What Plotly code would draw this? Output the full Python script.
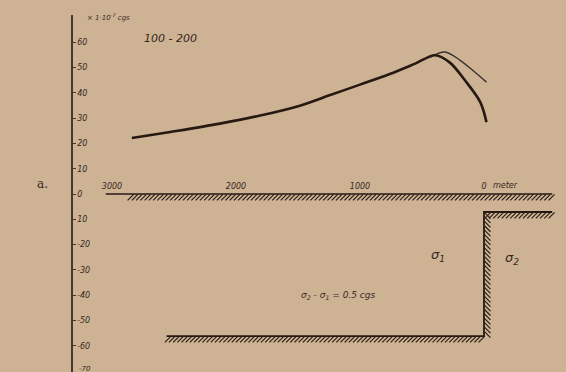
import numpy as np
import plotly.graph_objects as go

# Distance along the profile (m, 0 at the step edge) and anomaly (x 1e-7 cgs)
dist_main = [2840, 2530, 2130, 1805, 1485, 1240, 1000, 760, 555, 395, 275, 155, 30, -20]
anom_main = [22.1, 24.5, 27.8, 31.0, 34.9, 39.1, 43.2, 47.4, 51.5, 54.8, 51.9, 45.0, 36.3, 28.4]
dist_alt = [435, 315, 195, 75, -20]
anom_alt = [54.1, 56.1, 52.9, 48.2, 44.2]

# Cross-section of the density step, drawn in the same axes
surface_x = [3050, -550]
surface_y = [0, 0]
step_x = [-550, 0, 0, 2560]
step_y = [-7.1, -7.1, -56.1, -56.1]

y_ticks = [60, 50, 40, 30, 20, 10, 0, -10, -20, -30, -40, -50, -60, -70]
y_ticktext = ["60", "50", "40", "30", "20", "10", "0", "10", "-20", "-30", "-40", "-50", "-60", "-70"]
x_ticks = [3000, 2000, 1000, 0]
x_ticktext = ["3000", "2000", "1000", "0"]

INK = "#261912"
TEXT = "#35281f"
BG = "#cdb293"


def hatch(x0, y0, x1, y1, n, dx=0.0, dy=0.0):
    xs = np.linspace(x0, x1, n) + dx
    ys = np.linspace(y0, y1, n) + dy
    return xs, ys


fig = go.Figure()

# hatching along the ground surface and the step boundary
hx1, hy1 = hatch(2850, 0, -545, 0, 100, dy=-1.3)
hx2, hy2 = hatch(-30, -7.1, -545, -7.1, 16, dy=-1.3)
hx3, hy3 = hatch(0, -8.5, 0, -55.5, 28, dx=-28)
hx4, hy4 = hatch(2550, -56.1, 20, -56.1, 76, dy=-1.3)
for hx, hy, sym in [(hx1, hy1, "line-ne"), (hx2, hy2, "line-ne"),
                    (hx3, hy3, "line-nw"), (hx4, hy4, "line-ne")]:
    fig.add_trace(go.Scatter(x=hx, y=hy, mode="markers", hoverinfo="skip",
                             marker=dict(symbol=sym, size=6,
                                         line=dict(color=INK, width=1.1)),
                             showlegend=False))

fig.add_trace(go.Scatter(x=surface_x, y=surface_y, mode="lines",
                         line=dict(color=INK, width=1.5), showlegend=False))
fig.add_trace(go.Scatter(x=step_x, y=step_y, mode="lines",
                         line=dict(color=INK, width=1.8), showlegend=False))

# anomaly curves
fig.add_trace(go.Scatter(x=dist_alt, y=anom_alt, mode="lines",
                         line=dict(color="#3a3230", width=1.4, shape="spline", smoothing=0.9),
                         showlegend=False))
fig.add_trace(go.Scatter(x=dist_main, y=anom_main, mode="lines",
                         line=dict(color=INK, width=2.6, shape="spline", smoothing=0.9),
                         showlegend=False))

ifont = dict(family="DejaVu Sans", color=TEXT, style="italic")

fig.update_layout(
    width=566, height=372,
    margin=dict(l=73, r=6, t=15, b=0),
    paper_bgcolor=BG, plot_bgcolor=BG,
    xaxis=dict(range=[3314.5, -612.9], showgrid=False, zeroline=False,
               showline=False, ticks="", tickvals=x_ticks, ticktext=x_ticktext,
               side="top", anchor="free", position=0.508,
               tickfont=dict(size=8, **ifont)),
    yaxis=dict(range=[-70.3, 70.7], showgrid=False, zeroline=False,
               showline=True, linecolor="#43382d", linewidth=1.5,
               ticks="inside", ticklen=3, tickcolor="#43382d",
               ticklabelposition="inside",
               tickvals=y_ticks, ticktext=y_ticktext,
               tickfont=dict(size=8, **ifont)),
    annotations=[
        # bottom tick label sits at the lower edge, placed explicitly
        dict(x=0.009, xref="paper", y=-69.2, text="-70", showarrow=False,
             xanchor="left", yanchor="middle", font=dict(size=7, **ifont)),
        dict(x=-170, y=3.4, text="meter", showarrow=False, xanchor="center",
             font=dict(size=8, **ifont)),
        dict(x=3032, y=70.0, text="\u00d7 1\u00b710<sup>-7</sup> cgs", showarrow=False,
             font=dict(size=7, **ifont)),
        dict(x=2532, y=61.6, text="100 - 200", showarrow=False,
             font=dict(size=11, **ifont)),
        dict(x=371, y=-24.1, text="\u03c3<sub>1</sub>", showarrow=False,
             font=dict(size=13, **ifont)),
        dict(x=-226, y=-25.3, text="\u03c3<sub>2</sub>", showarrow=False,
             font=dict(size=13, **ifont)),
        dict(x=1177, y=-39.9, text="\u03c3<sub>2</sub> - \u03c3<sub>1</sub> = 0.5 cgs",
             showarrow=False, font=dict(size=9, **ifont)),
        dict(x=-0.062, xref="paper", y=4.0, text="a.", showarrow=False,
             xanchor="center", font=dict(size=12, family="DejaVu Serif", color=TEXT)),
    ],
)

fig.write_html("out.html")
